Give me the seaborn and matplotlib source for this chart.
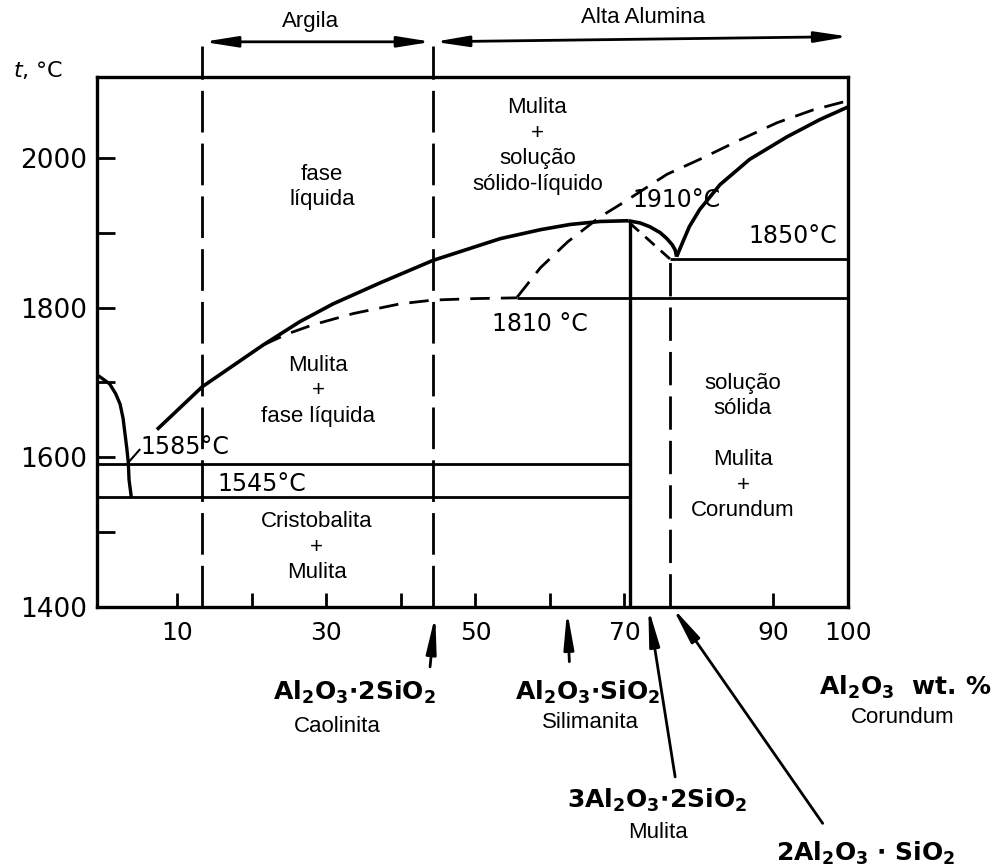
import matplotlib
matplotlib.use("Agg")
import matplotlib.pyplot as plt
import seaborn as sns

# ---------------- data: wt.% Al2O3 vs temperature (°C) ----------------
sio2_liquidus_x = [-0.8, -0.2, 0.9, 1.7, 2.3, 2.7, 2.9, 3.2, 3.4, 3.5, 3.8]
sio2_liquidus_t = [1710, 1706, 1698, 1685, 1671, 1652, 1636, 1612, 1593, 1570, 1547]

mullite_liquidus_x = [7.25, 13.3, 21.5, 26.4, 30.9, 37.2, 44.3, 53.3, 58.7, 62.7, 66.7, 70.5]
mullite_liquidus_t = [1637, 1694, 1750, 1781, 1805, 1833, 1863, 1892, 1904, 1911, 1915, 1916]

peak_arc_x = [70.5, 72.1, 73.4, 74.8, 75.7, 76.4, 76.8, 77.0]
peak_arc_t = [1916, 1913, 1908, 1900, 1892, 1884, 1877, 1868]

alumina_liquidus_x = [77.0, 77.8, 78.7, 80.1, 82.8, 86.8, 91.8, 96.2, 100.0]
alumina_liquidus_t = [1868, 1887, 1908, 1931, 1964, 1998, 2028, 2051, 2068]

meta_liquidus_x = [21.5, 24.8, 28.2, 33.6, 39.9, 44.3, 50.0, 55.6]
meta_liquidus_t = [1750, 1765, 1777, 1792, 1805, 1810, 1812, 1813]

meta_upper_x = [55.6, 58.7, 62.4, 66.7, 69.8, 75.7, 80.1, 85.5, 90.5, 95.3, 99.5]
meta_upper_t = [1814, 1853, 1888, 1921, 1940, 1978, 1998, 2024, 2047, 2064, 2075]

solvus_x = [70.7, 76.1]
solvus_t = [1913, 1865]

eutectic_1585_x = [-0.8, 70.7]
eutectic_1585_t = [1591, 1591]
eutectic_1545_x = [-0.8, 70.7]
eutectic_1545_t = [1547, 1547]
line_1810_x = [55.6, 100.0]
line_1810_t = [1813, 1813]
line_1850_x = [76.1, 100.0]
line_1850_t = [1865, 1865]

mullite_x = [70.7, 70.7]
mullite_t = [1400, 1916]
al2sio5_x = [76.1, 76.1]
al2sio5_t = [1400, 1865]

argila_x = 13.3
alta_x = 44.3
zone_t_bottom, zone_t_top, zone_t_ext = 1400, 2108, 2149

x_ticks = [10, 30, 50, 70, 90, 100]
x_tick_labels = ["10", "30", "50", "70", "90", "100"]
x_minor = [10, 20, 30, 40, 50, 60, 70, 90]
y_ticks = [1400, 1600, 1800, 2000]
y_tick_labels = ["1400", "1600", "1800", "2000"]
y_minor = [1500, 1700, 1900]

# ---------------- style ----------------
sns.set_theme(style="white")
plt.rcParams["font.family"] = ["DejaVu Sans"]
plt.rcParams["mathtext.default"] = "bf"
plt.rcParams["mathtext.fontset"] = "dejavusans"
plt.rcParams["lines.scale_dashes"] = False
plt.rcParams["text.color"] = "black"
plt.rcParams["xtick.color"] = "black"
plt.rcParams["ytick.color"] = "black"
plt.rcParams["axes.labelcolor"] = "black"

fig = plt.figure(figsize=(9.95, 8.68), dpi=100)
ax = fig.add_axes([97 / 995, 1 - 607 / 868, 751 / 995, 530 / 868])
ax.set_xlim(-0.8, 100)
ax.set_ylim(1400, 2108)

SANS = "Liberation Sans"


def curve(x, y, lw=2.6, ls="-", **kw):
    sns.lineplot(x=x, y=y, ax=ax, sort=False, estimator=None, color="black",
                 linewidth=lw, linestyle=ls, legend=False,
                 solid_joinstyle="round", solid_capstyle="butt", **kw)


# solid phase boundaries
curve(sio2_liquidus_x, sio2_liquidus_t, lw=2.4)
curve(mullite_liquidus_x, mullite_liquidus_t)
curve(peak_arc_x, peak_arc_t)
curve(alumina_liquidus_x, alumina_liquidus_t)
curve(eutectic_1585_x, eutectic_1585_t, lw=2.0)
curve(eutectic_1545_x, eutectic_1545_t, lw=2.0)
curve(line_1810_x, line_1810_t, lw=2.0)
curve(line_1850_x, line_1850_t, lw=2.0)
curve(mullite_x, mullite_t, lw=2.4)

# dashed (metastable) boundaries
curve(meta_liquidus_x, meta_liquidus_t, lw=2.0, ls=(0, (14, 8)))
curve(meta_upper_x, meta_upper_t, lw=2.0, ls=(0, (14, 8)))
curve(solvus_x, solvus_t, lw=2.0, ls=(0, (9, 6)))
curve(al2sio5_x, al2sio5_t, lw=2.0, ls=(0, (24, 8)))

# zone boundaries (Argila / Alta Alumina)
for zx in (argila_x, alta_x):
    curve([zx, zx], [zone_t_bottom, zone_t_top], lw=2.0, ls=(0, (30, 8)))
    curve([zx, zx], [zone_t_top, zone_t_ext], lw=2.0, clip_on=False)

# leader line for 1585 °C
curve([3.4, 5.0], [1593, 1611], lw=1.5)

# arrows on top
head = "<|-|>,head_length=1.0,head_width=0.16"
ax.annotate("", xy=(argila_x, 2155), xytext=(alta_x, 2155),
            arrowprops=dict(arrowstyle=head, color="black", lw=2, shrinkA=1, shrinkB=1,
                            mutation_scale=20), annotation_clip=False)
ax.annotate("", xy=(alta_x, 2155), xytext=(100.3, 2162),
            arrowprops=dict(arrowstyle=head, color="black", lw=2, shrinkA=1, shrinkB=1,
                            mutation_scale=20), annotation_clip=False)
ax.text(27.8, 2182, "Argila", ha="center", va="center", fontsize=16, family=SANS, clip_on=False)
ax.text(72.5, 2187, "Alta Alumina", ha="center", va="center", fontsize=16, family=SANS, clip_on=False)

# region labels
lab = dict(ha="center", va="center", fontsize=16, family=SANS, linespacing=1.28)
ax.text(29.4, 1961, "fase\nlíquida", **lab)
ax.text(58.3, 2016, "Mulita\n+\nsolução\nsólido-líquido", **lab)
ax.text(28.9, 1689, "Mulita\n+\nfase líquida", **lab)
ax.text(28.7, 1480, "Cristobalita\n+\nMulita", **lab)
ax.text(85.9, 1614, "solução\nsólida\n\nMulita\n+\nCorundum", **lab)

# temperature labels
tl = dict(ha="center", va="center", fontsize=17)
ax.text(77.0, 1944, "1910°C", **tl)
ax.text(92.6, 1895, "1850°C", **tl)
ax.text(58.7, 1778, "1810 °C", **tl)
ax.text(11.0, 1614, "1585°C", **tl)
ax.text(21.3, 1564, "1545°C", **tl)

# arrows and formulas below the axis
arr = dict(arrowstyle="-|>,head_length=1.1,head_width=0.15", color="black", lw=2,
           shrinkA=0, shrinkB=0, mutation_scale=20)
ax.annotate("", xy=(44.6, 1389), xytext=(43.9, 1320), arrowprops=arr, annotation_clip=False)
ax.annotate("", xy=(62.3, 1395), xytext=(62.6, 1327), arrowprops=arr, annotation_clip=False)
ax.annotate("", xy=(73.2, 1399), xytext=(76.8, 1173), arrowprops=arr, annotation_clip=False)
ax.annotate("", xy=(76.4, 1400), xytext=(96.6, 1111), arrowprops=arr, annotation_clip=False)

fm = dict(ha="center", va="center", fontsize=18, clip_on=False)
sub = dict(ha="center", va="center", fontsize=16, family=SANS, clip_on=False)
ax.text(33.7, 1286, r"$Al_2O_3{\cdot}2SiO_2$", **fm)
ax.text(31.5, 1240, "Caolinita", **sub)
ax.text(65.1, 1286, r"$Al_2O_3{\cdot}SiO_2$", **fm)
ax.text(65.4, 1246, "Silimanita", **sub)
ax.text(107.7, 1292, r"$Al_2O_3$  wt. %", fontweight="bold", **fm)
ax.text(107.4, 1252, "Corundum", **sub)
ax.text(74.4, 1142, r"$3Al_2O_3{\cdot}2SiO_2$", **fm)
ax.text(74.5, 1099, "Mulita", **sub)
ax.text(102.4, 1071, r"$2Al_2O_3\ {\cdot}\ SiO_2$", **fm)

# axis label
fig.text(13 / 995, 1 - 70 / 868, r"$\mathit{t}$, °C", ha="left", va="center", fontsize=16)

# ticks
ax.xaxis.remove_overlapping_locs = False
ax.set_xticks(x_ticks)
ax.set_xticklabels(x_tick_labels, fontsize=18)
ax.set_xticks(x_minor, minor=True)
ax.tick_params(axis="x", which="major", length=0, pad=10, bottom=True)
ax.tick_params(axis="x", which="minor", direction="in", length=10, width=2, bottom=True)
ax.set_yticks(y_ticks)
ax.set_yticklabels(y_tick_labels, fontsize=19)
ax.set_yticks(y_minor, minor=True)
ax.tick_params(axis="y", which="both", direction="in", length=13, width=2, left=True, pad=7)
ax.set_xlabel("")
ax.set_ylabel("")

for s in ax.spines.values():
    s.set_color("black")
    s.set_linewidth(2.4)

fig.savefig("out.png", dpi=100, facecolor="white")
